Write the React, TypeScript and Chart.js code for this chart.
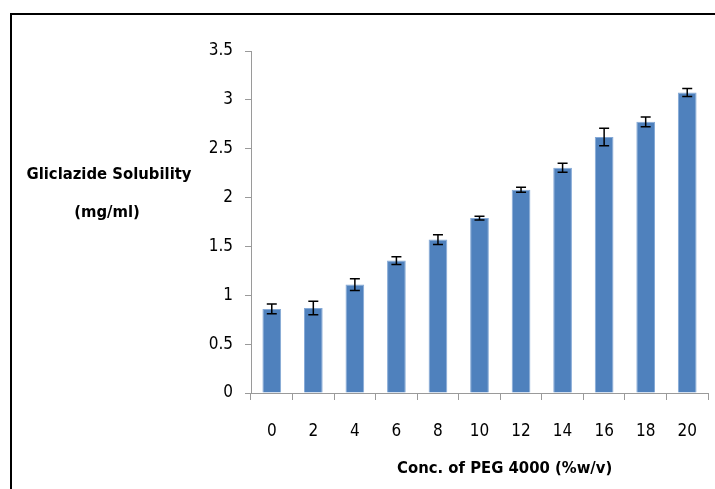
import React, { useEffect, useRef } from "react";
import { Chart, registerables } from "chart.js";

Chart.register(...registerables);

const categories = ["0", "2", "4", "6", "8", "10", "12", "14", "16", "18", "20"];
const solubility = [0.86, 0.87, 1.11, 1.355, 1.57, 1.79, 2.08, 2.305, 2.62, 2.775, 3.075];
const errors = [0.05, 0.07, 0.06, 0.04, 0.05, 0.02, 0.025, 0.045, 0.09, 0.05, 0.04];
const yTitleLines = ["Gliclazide Solubility", "(mg/ml)"];
const xTitle = "Conc. of PEG 4000 (%w/v)";

const FONT = "'Liberation Sans Narrow', 'DejaVu Sans Condensed', 'Arial Narrow', sans-serif";

const errorBarPlugin = {
  id: "errorBars",
  afterDatasetsDraw(chart: any) {
    const ctx = chart.ctx;
    const meta = chart.getDatasetMeta(0);
    const y = chart.scales.y;
    ctx.save();
    ctx.strokeStyle = "#000";
    ctx.lineWidth = 1.5;
    meta.data.forEach((bar: any, i: number) => {
      const v = solubility[i];
      const e = errors[i];
      const yt = y.getPixelForValue(v + e);
      const yb = y.getPixelForValue(v - e);
      const x = bar.x;
      const cap = 5;
      ctx.beginPath();
      ctx.moveTo(x, yt);
      ctx.lineTo(x, yb);
      ctx.moveTo(x - cap, yt);
      ctx.lineTo(x + cap, yt);
      ctx.moveTo(x - cap, yb);
      ctx.lineTo(x + cap, yb);
      ctx.stroke();
    });
    ctx.restore();
  },
};

const decorPlugin = {
  id: "decor",
  afterDraw(chart: any) {
    const ctx = chart.ctx;
    const area = chart.chartArea;
    ctx.save();
    ctx.fillStyle = "#000";
    ctx.fillRect(10, 13, chart.width - 10, 2);
    ctx.fillRect(10, 13, 2, chart.height - 13);
    ctx.font = `bold 16.5px ${FONT}`;
    ctx.textAlign = "center";
    ctx.textBaseline = "middle";
    ctx.fillText(yTitleLines[0], 109, 175);
    ctx.fillText(yTitleLines[1], 107, 213);
    ctx.fillText(xTitle, area.left + (area.right - area.left) * 0.555, 469);
    ctx.restore();
  },
};

export default function App() {
  const ref = useRef<HTMLCanvasElement | null>(null);
  useEffect(() => {
    if (!ref.current) return;
    const chart = new Chart(ref.current, {
      type: "bar",
      data: {
        labels: categories,
        datasets: [
          {
            data: solubility,
            backgroundColor: "#4F81BD",
            borderColor: "rgba(120,160,210,0.9)",
            borderWidth: 1,
            barPercentage: 0.45,
            categoryPercentage: 1,
          },
        ],
      },
      options: {
        animation: false,
        responsive: false,
        maintainAspectRatio: false,
        layout: { padding: { left: 0, right: 7, top: 51, bottom: 0 } },
        plugins: { legend: { display: false }, tooltip: { enabled: false } },
        scales: {
          x: {
            offset: true,
            grid: {
              offset: true,
              drawOnChartArea: false,
              drawTicks: true,
              tickLength: 7,
              color: "#9a9a9a",
            },
            border: { color: "#9a9a9a", width: 1 },
            ticks: {
              color: "#000",
              font: { family: FONT, size: 17 },
              padding: 21,
              maxRotation: 0,
            },
            afterFit(scale: any) {
              scale.height = 96;
              scale.paddingLeft = 0;
              scale.paddingRight = 0;
            },
          },
          y: {
            min: 0,
            max: 3.5,
            grid: {
              drawOnChartArea: false,
              drawTicks: true,
              tickLength: 6,
              color: "#9a9a9a",
            },
            border: { color: "#9a9a9a", width: 1 },
            ticks: {
              stepSize: 0.5,
              color: "#000",
              font: { family: FONT, size: 17 },
              padding: 12,
              callback: (v: any) => String(Number(v)),
            },
            afterFit(scale: any) {
              scale.width = 251;
            },
          },
        },
      },
      plugins: [errorBarPlugin, decorPlugin],
    });
    return () => chart.destroy();
  }, []);
  return (
    <div style={{ position: "fixed", left: 0, top: 0, width: 715, height: 489, background: "#fff" }}>
      <canvas ref={ref} width={715} height={489} style={{ display: "block" }} />
    </div>
  );
}
